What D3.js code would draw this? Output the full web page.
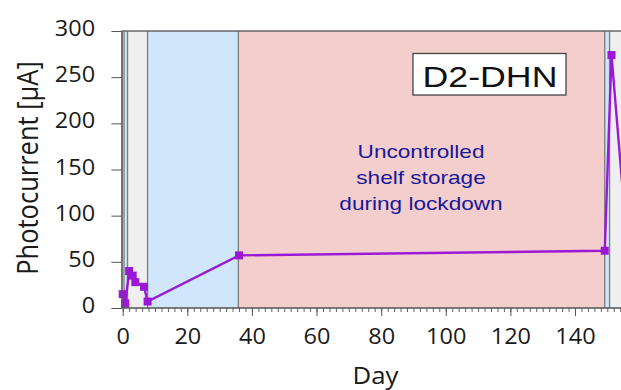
<!DOCTYPE html>
<html>
<head>
<meta charset="utf-8">
<script src="https://cdn.jsdelivr.net/npm/d3@7"></script>
<style>
  body { margin: 0; background: #fff; }
  svg { display: block; }
</style>
</head>
<body>
<script>
// data
const days = [0, 0.8, 2, 3.1, 3.9, 6.6, 7.7, 36, 149.2, 151.3, 156];
const current = [15, 5, 40, 35, 28, 23, 7, 57, 62, 274, 75];

// storage phases (start day, end day, kind)
const bandStart = [-0.2, 0.4, 1.5, 7.7, 35.8, 149.2, 150.7];
const bandEnd = [0.4, 1.5, 7.7, 35.8, 149.2, 150.7, 160];
const bandKind = ["measure", "stored", "measure", "stored", "lockdown", "stored", "measure"];

const xMajor = [0, 20, 40, 60, 80, 100, 120, 140];
const xMinor = d3.range(0, 158, 2);
const yTicks = [0, 50, 100, 150, 200, 250, 300];

const note = ["Uncontrolled", "shelf storage", "during lockdown"];
const sampleName = "D2-DHN";

const W = 621, H = 390;
const sx = 1.12; // picture is a bit stretched sideways

const svg = d3.select("body").append("svg").attr("width", W).attr("height", H);

const x = d3.scaleLinear().domain([0, 140]).range([122.7, 575]);
const y = d3.scaleLinear().domain([0, 300]).range([308, 31]);
const left = x(-0.4), right = x(158);

const bandColor = { measure: "#efefef", stored: "#cfe6fb", lockdown: "#f4cdcd" };

svg.append("clipPath").attr("id", "plot")
  .append("rect").attr("x", left).attr("y", y(300)).attr("width", right - left).attr("height", y(0) - y(300));

const plot = svg.append("g").attr("clip-path", "url(#plot)");

const bands = d3.range(bandStart.length);
plot.selectAll("rect.band").data(bands).enter().append("rect")
  .attr("class", "band")
  .attr("x", i => x(bandStart[i]))
  .attr("width", i => x(bandEnd[i]) - x(bandStart[i]))
  .attr("y", y(300))
  .attr("height", y(0) - y(300))
  .attr("fill", i => bandColor[bandKind[i]]);

plot.selectAll("line.sep").data(bandStart).enter().append("line")
  .attr("class", "sep")
  .attr("x1", d => x(d)).attr("x2", d => x(d))
  .attr("y1", y(300)).attr("y2", y(0))
  .attr("stroke", "#7c7c7c").attr("stroke-width", 1.3);

// note text
const noteG = svg.append("g").attr("fill", "#18189a")
  .style("font-family", "'Liberation Sans', Arial, sans-serif").style("font-size", "19px");
note.forEach((t, i) => {
  noteG.append("text")
    .attr("transform", `translate(421,${158 + i * 26}) scale(1.19,1)`)
    .attr("text-anchor", "middle").text(t);
});

// sample label
svg.append("rect").attr("x", 413).attr("y", 53.5).attr("width", 153).attr("height", 41.5)
  .attr("fill", "#fff").attr("stroke", "#444").attr("stroke-width", 1.3);
svg.append("text")
  .attr("transform", `translate(490,86.5) scale(1.19,1)`)
  .attr("text-anchor", "middle")
  .style("font-family", "'Liberation Sans', Arial, sans-serif").style("font-size", "30px")
  .attr("fill", "#111").text(sampleName);

// series
const pts = days.map((d, i) => [d, current[i]]);
const line = d3.line().x(d => x(d[0])).y(d => y(d[1]));
svg.append("path").datum(pts)
  .attr("d", line).attr("fill", "none")
  .attr("stroke", "#9a18d6").attr("stroke-width", 2.4);
svg.selectAll("rect.pt").data(pts).enter().append("rect")
  .attr("class", "pt")
  .attr("x", d => x(d[0]) - 4).attr("y", d => y(d[1]) - 4)
  .attr("width", 8).attr("height", 8)
  .attr("fill", "#9a18d6");

// top frame
svg.append("line").attr("x1", left).attr("x2", W).attr("y1", y(300)).attr("y2", y(300))
  .attr("stroke", "#666").attr("stroke-width", 1.3);

// axes
const font = "'Open Sans', 'Noto Sans', sans-serif";

const xMin = svg.append("g").attr("transform", `translate(0,${y(0)})`)
  .call(d3.axisBottom(x).tickValues(xMinor).tickSize(4).tickFormat(""));
xMin.select(".domain").remove();
xMin.selectAll("line").attr("stroke", "#666");

const xAx = svg.append("g").attr("transform", `translate(0,${y(0)})`)
  .call(d3.axisBottom(x).tickValues(xMajor).tickSize(8).tickSizeOuter(0));
xAx.select(".domain").attr("d", `M${left},0H${W}`).attr("stroke", "#555").attr("stroke-width", 1.3);
xAx.selectAll("line").attr("stroke", "#555");
xAx.selectAll("text")
  .attr("y", 0).attr("dy", 0)
  .attr("transform", `translate(0,36) scale(${sx},1)`)
  .attr("fill", "#1a1a1a")
  .style("font-family", font).style("font-size", "21px");

const yAx = svg.append("g").attr("transform", `translate(${left},0)`)
  .call(d3.axisLeft(y).tickValues(yTicks).tickSize(10).tickSizeOuter(0));
yAx.select(".domain").attr("stroke", "#555").attr("stroke-width", 1.3);
yAx.selectAll("line").attr("stroke", "#555");
yAx.selectAll("text")
  .attr("x", -23.5).attr("dy", "0.22em")
  .attr("transform", `scale(${sx},1)`)
  .attr("fill", "#1a1a1a")
  .style("font-family", font).style("font-size", "21px");

// titles
svg.append("text")
  .attr("transform", `translate(375.5,384) scale(${sx},1)`)
  .attr("text-anchor", "middle").attr("fill", "#1a1a1a")
  .style("font-family", font).style("font-size", "23px")
  .text("Day");

svg.append("text")
  .attr("transform", `translate(38,168) rotate(-90) scale(1,${sx})`)
  .attr("text-anchor", "middle").attr("fill", "#1a1a1a")
  .style("font-family", font).style("font-size", "25.5px")
  .text("Photocurrent [µA]");
</script>
</body>
</html>
